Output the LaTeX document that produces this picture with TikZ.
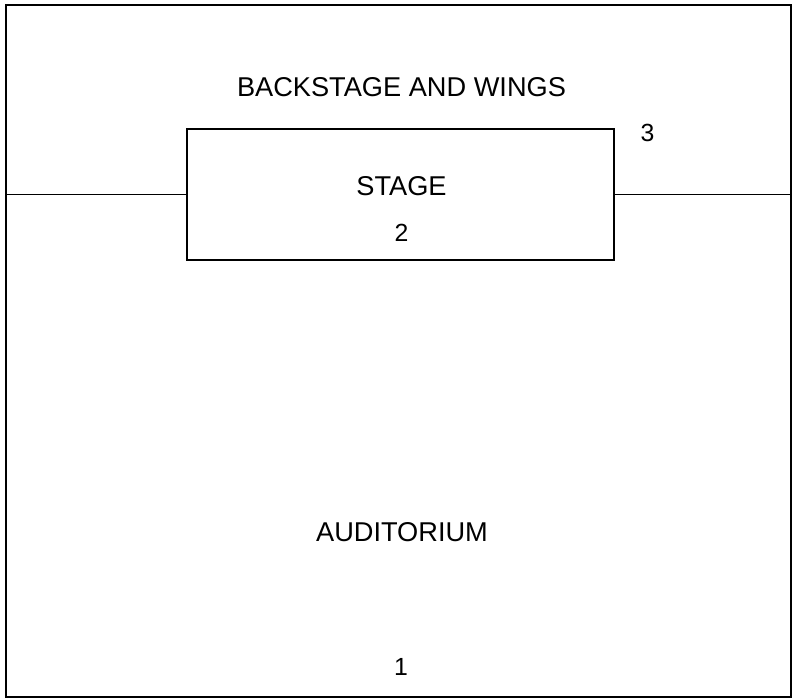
\documentclass[tikz,border=0pt]{standalone}
\usepackage{fontspec}
\setmainfont{Liberation Sans}
\usepackage{tikz}
\usetikzlibrary{positioning,calc}
\tikzset{
  hallbox/.style={draw, line width=1.5pt, inner sep=0pt, minimum width=588.75pt, minimum height=519pt},
  stagebox/.style={draw, line width=1.5pt, inner sep=0pt, minimum width=320.25pt, minimum height=98.25pt},
  halllabel/.style={anchor=base, inner sep=0pt, font=\fontsize{20.4}{24}\selectfont},
  hallnum/.style={anchor=base, inner sep=0pt, font=\fontsize{18.6}{22}\selectfont},
  hallline/.style={line width=1.1pt}
}
\begin{document}
\begin{tikzpicture}[x=0.75pt,y=-0.75pt]
\useasboundingbox (0,0) rectangle (792,699);
\node[hallbox] (hall) at (398.5,351) {};
\node[stagebox] (stage) at (400.5,194.5) {};
\node[halllabel] (backstage) at (401.5,96) {BACKSTAGE AND WINGS};
\node[halllabel] (stagename) at (401.5,195) {STAGE};
\node[hallnum] (stagenum) at (401.5,241) {2};
\node[hallnum] (wingsnum) at (647.5,141) {3};
\node[halllabel] (auditorium) at (402,541) {AUDITORIUM};
\node[hallnum] (hallnum) at (401,675) {1};
\draw[hallline] (stage.west) -- (stage.west -| hall.west);
\draw[hallline] (stage.east) -- (stage.east -| hall.east);
\end{tikzpicture}
\end{document}
